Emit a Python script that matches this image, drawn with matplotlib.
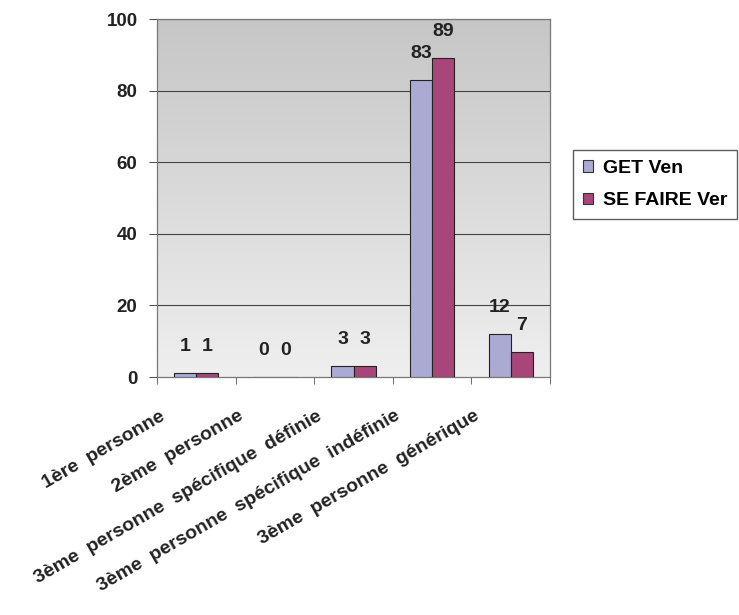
import numpy as np
import matplotlib
matplotlib.use("Agg")
import matplotlib.pyplot as plt
import matplotlib.transforms as mtransforms
from matplotlib.patches import Patch

plt.rcParams['font.family'] = ['Liberation Sans', 'DejaVu Sans']
plt.rcParams['font.weight'] = 'bold'

categories = ['1ère  personne', '2ème  personne', '3ème  personne  spécifique  définie',
              '3ème  personne  spécifique  indéfinie', '3ème  personne  générique']
get_ven = [1, 0, 3, 83, 12]
se_faire = [1, 0, 3, 89, 7]
labels_get = ['1', '0', '3', '83', '12']
labels_se = ['1', '0', '3', '89', '7']
series_names = ['GET Ven', 'SE FAIRE Ver']
colors = ['#aaaad4', '#a84679']
yticks = [0, 20, 40, 60, 80, 100]

fig = plt.figure(figsize=(7.39, 6.15), dpi=100)
ax = fig.add_axes([157 / 739, 1 - 377 / 615, 393 / 739, 358 / 615])

# gray gradient background, darker at the top
grad = np.linspace(0, 1, 256).reshape(-1, 1)
cmap = matplotlib.colors.LinearSegmentedColormap.from_list('g', ['#c6c6c6', '#efefef'])
ax.imshow(grad, cmap=cmap, aspect='auto', extent=(-0.5, 4.5, 0, 100), origin='upper', zorder=0)

x = np.arange(len(categories))
w = 0.28
ax.bar(x - w / 2, get_ven, w, color=colors[0], edgecolor='#222222', linewidth=0.8, zorder=3)
ax.bar(x + w / 2, se_faire, w, color=colors[1], edgecolor='#222222', linewidth=0.8, zorder=3)

for i in range(len(categories)):
    ax.text(x[i] - w / 2, get_ven[i] + 7.5, labels_get[i], ha='center', va='center',
            fontsize=14, fontweight='bold', color='#222222', zorder=4)
    ax.text(x[i] + w / 2, se_faire[i] + 7.5, labels_se[i], ha='center', va='center',
            fontsize=14, fontweight='bold', color='#222222', zorder=4)

ax.set_xlim(-0.5, 4.5)
ax.set_ylim(0, 100)
ax.set_yticks(yticks)
ax.set_yticklabels([str(t) for t in yticks], fontsize=13.5, fontweight='bold', color='#222222')
for t in yticks[1:]:
    ax.axhline(t, color='#444444', linewidth=0.8, zorder=1)

ax.set_xticks(x)
ax.set_xticklabels(categories, rotation=30, ha='right', va='center', rotation_mode='anchor',
                   fontsize=14, fontweight='bold', color='#222222')
ax.tick_params(axis='x', which='major', length=0, pad=0)
shift = mtransforms.ScaledTranslation(-33 / 100, -38 / 100, fig.dpi_scale_trans)
for lab in ax.get_xticklabels():
    lab.set_transform(lab.get_transform() + shift)
ax.set_xticks(np.arange(-0.5, 5, 1), minor=True)
ax.tick_params(axis='x', which='minor', length=5, color='#555555')
ax.tick_params(axis='y', length=6, color='#555555', pad=8)

for s in ax.spines.values():
    s.set_color('#777777')
    s.set_linewidth(0.9)

handles = [Patch(facecolor=c, edgecolor='#333333', linewidth=0.8) for c in colors]
fig.legend(handles, series_names, loc='upper left', bbox_to_anchor=(573 / 739, 1 - 150 / 615),
           prop={'size': 14, 'weight': 'bold'}, frameon=True, fancybox=False,
           edgecolor='#333333', handlelength=0.55, handleheight=0.55, handletextpad=0.5,
           labelspacing=0.8, borderpad=0.5, borderaxespad=0)

fig.savefig('out.png', dpi=100)
